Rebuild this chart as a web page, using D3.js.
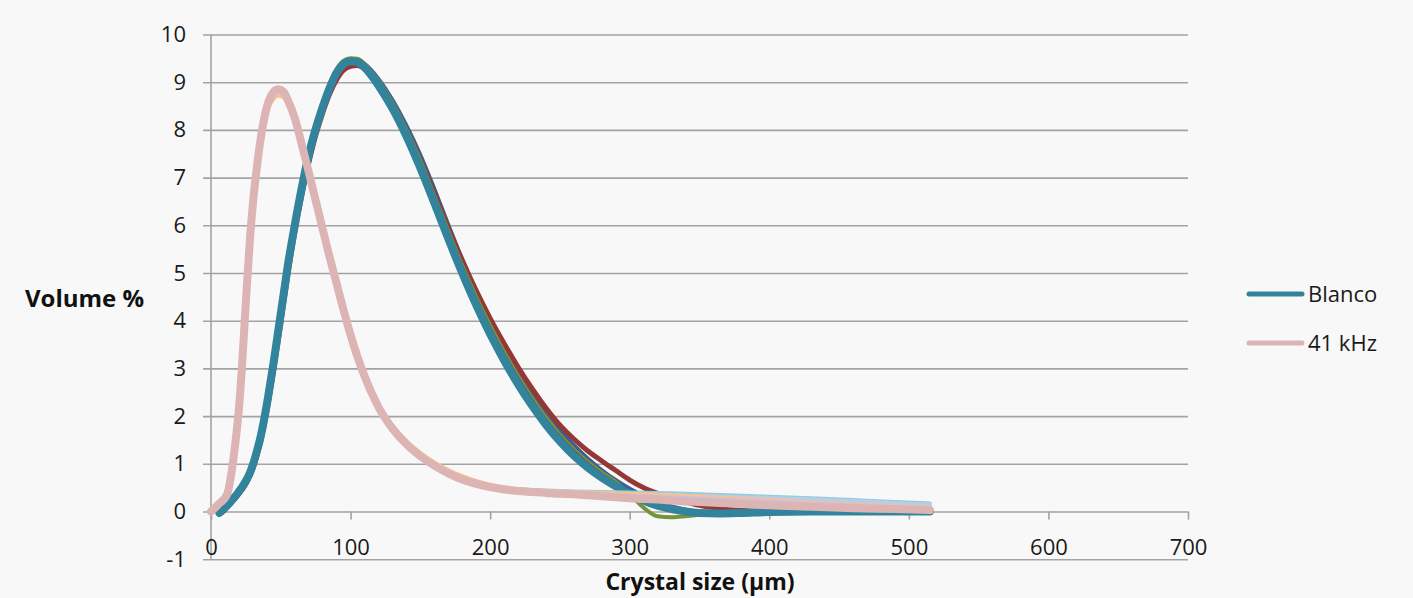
<!DOCTYPE html>
<html><head><meta charset="utf-8">
<script src="https://cdn.jsdelivr.net/npm/d3@7/dist/d3.min.js"></script>
<style>
body{margin:0;background:#f8f8f8;}
svg{display:block;font-family:"Open Sans",sans-serif;}
</style>
</head><body>
<svg id="chart" width="1413" height="598"></svg>
<script>
// ---- data ----
const sizes = [0,3,6,8,10,12,15,18,20,22,25,28,30,33,35,38,41,45,48,52,55,60,65,70,75,80,85,90,95,100,105,110,115,120,130,140,150,160,170,180,190,200,210,220,230,240,250,260,270,280,290,300,310,320,330,340,350,365,380,400,430,460,490,515];
const blanco = [null,null,-0.03,0.02,0.08,0.14,0.24,0.34,0.42,0.5,0.64,0.82,0.98,1.28,1.5,1.92,2.42,3.15,3.75,4.55,5.15,6.0,6.78,7.47,8.02,8.48,8.88,9.2,9.38,9.44,9.42,9.31,9.14,8.93,8.45,7.87,7.2,6.47,5.72,5.0,4.33,3.72,3.17,2.67,2.22,1.82,1.47,1.17,0.92,0.71,0.53,0.37,0.23,0.12,0.05,0.0,-0.03,-0.04,-0.03,-0.01,0,0,0,0];
const khz41 = [0,0.08,0.17,0.22,0.28,0.4,0.88,1.58,2.15,2.95,4.4,5.75,6.45,7.25,7.7,8.22,8.58,8.8,8.85,8.8,8.63,8.25,7.7,7.12,6.52,5.92,5.33,4.78,4.22,3.7,3.24,2.84,2.49,2.19,1.74,1.41,1.16,0.96,0.8,0.67,0.58,0.51,0.46,0.43,0.41,0.39,0.37,0.36,0.34,0.32,0.3,0.28,0.26,0.25,0.23,0.21,0.2,0.18,0.16,0.13,0.1,0.07,0.05,0.03];

// other Blanco repetitions (drawn beneath the main Blanco line)
const blancoRed = [[8,0],[12,0.1],[18,0.3],[25,0.58],[30,0.9],[35,1.4],[40,2.1],[45,2.98],[50,3.95],[55,4.95],[60,5.85],[65,6.62],[70,7.3],[75,7.88],[80,8.35],[85,8.75],[90,9.05],[95,9.25],[100,9.33],[105,9.35],[110,9.28],[115,9.14],[120,8.96],[130,8.52],[140,7.98],[150,7.36],[160,6.66],[170,5.94],[180,5.26],[190,4.63],[200,4.05],[210,3.52],[220,3.03],[230,2.58],[240,2.17],[250,1.81],[260,1.52],[270,1.27],[280,1.06],[290,0.86],[300,0.66],[310,0.5],[320,0.38],[330,0.28],[340,0.2],[350,0.13],[365,0.06],[380,0.02],[400,0],[515,0]];
const blancoGreen = [[8,0],[12,0.12],[18,0.34],[25,0.64],[30,0.98],[35,1.5],[40,2.22],[45,3.12],[50,4.12],[55,5.12],[60,6.0],[65,6.8],[70,7.5],[75,8.08],[80,8.55],[85,8.95],[90,9.27],[95,9.45],[100,9.5],[105,9.49],[110,9.38],[115,9.22],[120,9.03],[130,8.57],[140,8.0],[150,7.36],[160,6.62],[170,5.88],[180,5.16],[190,4.5],[200,3.9],[210,3.35],[220,2.84],[230,2.38],[240,1.97],[250,1.61],[260,1.3],[270,1.04],[280,0.82],[290,0.62],[300,0.36],[310,0.08],[320,-0.1],[330,-0.12],[340,-0.1],[350,-0.07],[365,-0.04],[380,-0.02],[400,0],[515,0]];
const blancoPurple = [[8,0],[12,0.12],[18,0.33],[25,0.62],[30,0.96],[35,1.47],[40,2.2],[45,3.1],[50,4.1],[55,5.1],[60,5.97],[65,6.76],[70,7.46],[75,8.04],[80,8.5],[85,8.92],[90,9.24],[95,9.42],[100,9.47],[105,9.46],[110,9.35],[115,9.19],[120,9.0],[130,8.53],[140,7.95],[150,7.3],[160,6.57],[170,5.82],[180,5.1],[190,4.43],[200,3.82],[210,3.27],[220,2.77],[230,2.31],[240,1.9],[250,1.55],[260,1.25],[270,0.99],[280,0.77],[290,0.58],[300,0.41],[310,0.26],[320,0.14],[330,0.05],[340,0],[350,-0.03],[365,-0.05],[380,-0.05],[400,-0.03],[430,-0.01],[515,0]];
const blancoBlue = [[8,0],[12,0.1],[18,0.3],[25,0.58],[30,0.9],[35,1.42],[40,2.14],[45,3.04],[50,4.04],[55,5.05],[60,5.94],[65,6.72],[70,7.42],[75,8.0],[80,8.47],[85,8.88],[90,9.2],[95,9.4],[100,9.46],[105,9.46],[110,9.38],[115,9.24],[120,9.06],[130,8.62],[140,8.08],[150,7.46],[160,6.75],[170,6.0],[180,5.28],[190,4.62],[200,4.02],[210,3.46],[220,2.95],[230,2.49],[240,2.07],[250,1.7],[260,1.38],[270,1.1],[280,0.86],[290,0.65],[300,0.47],[310,0.32],[320,0.2],[330,0.1],[340,0.03],[350,-0.02],[365,-0.05],[380,-0.04],[400,-0.02],[430,0],[515,0]];

// other 41 kHz repetitions (drawn beneath the main 41 kHz line)
const khzOrange = [[0,0],[6,0.16],[12,0.38],[15,0.84],[20,2.08],[25,4.25],[30,6.3],[35,7.55],[41,8.45],[45,8.66],[48,8.72],[52,8.68],[55,8.55],[60,8.2],[65,7.68],[70,7.12],[75,6.54],[80,5.95],[90,4.82],[100,3.75],[110,2.9],[120,2.25],[130,1.8],[140,1.48],[150,1.23],[160,1.03],[170,0.87],[180,0.74],[190,0.64],[200,0.56],[220,0.47],[240,0.43],[260,0.41],[280,0.39],[300,0.37],[330,0.34],[360,0.3],[400,0.24],[430,0.19],[460,0.15],[490,0.11],[515,0.08]];
const khzLightBlue = [[0,0],[6,0.16],[12,0.39],[15,0.86],[20,2.1],[25,4.3],[30,6.35],[35,7.6],[41,8.5],[45,8.72],[48,8.76],[52,8.72],[55,8.58],[60,8.2],[65,7.66],[70,7.1],[75,6.52],[80,5.93],[90,4.8],[100,3.72],[110,2.87],[120,2.22],[130,1.77],[140,1.45],[150,1.2],[160,1.0],[170,0.84],[180,0.71],[190,0.62],[200,0.54],[220,0.46],[240,0.42],[260,0.4],[280,0.38],[300,0.36],[330,0.34],[360,0.31],[400,0.28],[430,0.25],[460,0.21],[490,0.17],[515,0.14]];
const khzLavender = [[0,0],[6,0.16],[12,0.39],[15,0.86],[20,2.1],[25,4.33],[30,6.38],[35,7.62],[41,8.52],[45,8.74],[48,8.8],[52,8.75],[55,8.6],[60,8.2],[65,7.64],[70,7.06],[75,6.46],[80,5.86],[90,4.72],[100,3.64],[110,2.79],[120,2.14],[130,1.7],[140,1.38],[150,1.13],[160,0.94],[170,0.78],[180,0.66],[190,0.57],[200,0.5],[220,0.42],[240,0.39],[260,0.37],[280,0.35],[300,0.33],[330,0.3],[360,0.26],[400,0.21],[430,0.17],[460,0.13],[490,0.09],[515,0.06]];
const khzCyan = [[0,0],[6,0.16],[12,0.39],[15,0.86],[20,2.1],[25,4.3],[30,6.35],[35,7.6],[41,8.5],[45,8.72],[48,8.77],[52,8.72],[55,8.58],[60,8.2],[65,7.66],[70,7.1],[75,6.52],[80,5.93],[90,4.8],[100,3.72],[110,2.87],[120,2.22],[130,1.77],[140,1.45],[150,1.2],[160,1.0],[170,0.84],[180,0.71],[190,0.62],[200,0.54],[220,0.47],[240,0.44],[260,0.42],[280,0.41],[300,0.4],[330,0.38],[360,0.35],[400,0.31],[430,0.28],[460,0.24],[490,0.2],[515,0.17]];

const xTicks = [0,100,200,300,400,500,600,700];
const yTicks = [-1,0,1,2,3,4,5,6,7,8,9,10];
const legendLabels = ["Blanco","41 kHz"];
const xTitle = "Crystal size (µm)";
const yTitle = "Volume %";

// ---- drawing ----
const svg = d3.select("#chart");
svg.append("rect").attr("width",1413).attr("height",598).attr("fill","#f8f8f8");

const x = d3.scaleLinear().domain([0,700]).range([211,1188]);
const y = d3.scaleLinear().domain([-1,10]).range([559.2,34.5]);
const gridColor = "#a3a3a3";
const fontSize = 22;

// horizontal gridlines + y labels
const yAxis = d3.axisLeft(y).tickValues(yTicks).tickFormat(d => String(d))
  .tickSize(-(1188-203)).tickPadding(17).tickSizeOuter(0);
const gy = svg.append("g").attr("transform","translate(203,0)").call(yAxis);
gy.select(".domain").remove();
gy.selectAll(".tick line").attr("stroke",gridColor).attr("stroke-width",1.6);
gy.selectAll(".tick text").attr("font-size",fontSize).attr("fill","#1a1a1a")
  .attr("font-family","'Open Sans',sans-serif");

// vertical axis line
svg.append("line").attr("x1",x(0)).attr("x2",x(0)).attr("y1",y(10)).attr("y2",y(-1))
  .attr("stroke",gridColor).attr("stroke-width",1.6);

// x axis at y = 0
const xAxis = d3.axisBottom(x).tickValues(xTicks).tickFormat(d => String(d))
  .tickSize(8).tickPadding(20).tickSizeOuter(0);
const gx = svg.append("g").attr("transform",`translate(0,${y(0)})`).call(xAxis);
gx.select(".domain").remove();
gx.selectAll(".tick line").attr("stroke",gridColor).attr("stroke-width",1.6);
gx.selectAll(".tick text").attr("font-size",fontSize).attr("fill","#1a1a1a")
  .attr("font-family","'Open Sans',sans-serif");

// lines
const linePairs = d3.line().x(d=>x(d[0])).y(d=>y(d[1])).curve(d3.curveMonotoneX);
const lineGrid = d3.line().defined(d=>d[1]!==null).x(d=>x(d[0])).y(d=>y(d[1])).curve(d3.curveMonotoneX);
const zip = vals => sizes.map((s,i)=>[s,vals[i]]);

const plot = svg.append("g");
function draw(data, gen, color, width){
  plot.append("path").datum(data).attr("d",gen).attr("fill","none")
    .attr("stroke",color).attr("stroke-width",width)
    .attr("stroke-linejoin","round").attr("stroke-linecap","round");
}
draw(blancoBlue, linePairs, "#3a5f95", 4.5);
draw(blancoRed, linePairs, "#953735", 5);
draw(blancoGreen, linePairs, "#77933c", 4);
draw(blancoPurple, linePairs, "#604a7b", 4);
draw(zip(blanco), lineGrid, "#31849b", 8);
draw(khzCyan, linePairs, "#93cddd", 4);
draw(khzLightBlue, linePairs, "#b9cde5", 4.5);
draw(khzOrange, linePairs, "#fac090", 4);
draw(khzLavender, linePairs, "#ccc1da", 4);
draw(zip(khz41), lineGrid, "#dcb4b3", 8);

// legend
const legendColors = ["#31849b","#dcb4b3"];
const lg = svg.append("g");
legendLabels.forEach((lab,i)=>{
  const cy = 294 + i*49;
  lg.append("line").attr("x1",1249).attr("x2",1302).attr("y1",cy).attr("y2",cy)
    .attr("stroke",legendColors[i]).attr("stroke-width",5).attr("stroke-linecap","round");
  lg.append("text").attr("x",1308).attr("y",cy+8).attr("font-size",fontSize)
    .attr("fill","#1a1a1a").text(lab);
});

// titles
svg.append("text").attr("x",25).attr("y",307).attr("font-size",24).attr("font-weight","bold")
  .attr("fill","#111").text(yTitle);
svg.append("text").attr("x",700).attr("y",590).attr("text-anchor","middle")
  .attr("font-size",23).attr("font-weight","bold").attr("fill","#111").text(xTitle);
</script>
</body></html>
